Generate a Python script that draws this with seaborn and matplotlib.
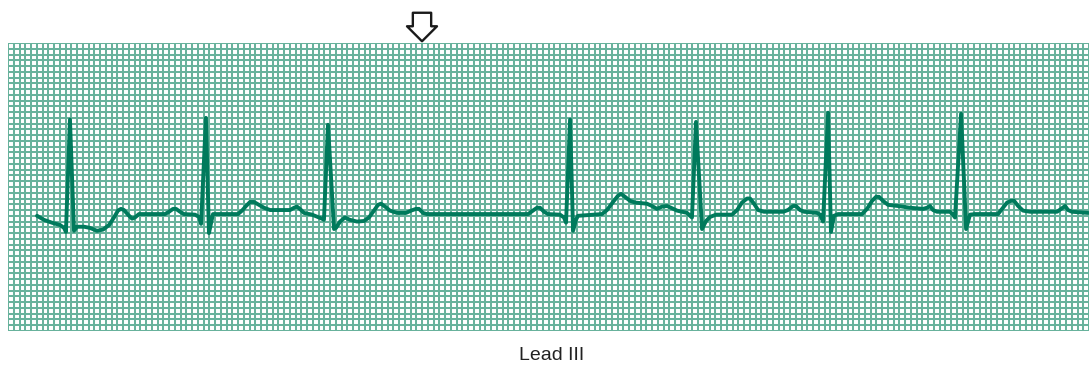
import numpy as np
import pandas as pd
import matplotlib
matplotlib.use("Agg")
import matplotlib.pyplot as plt
import seaborn as sns

# Rhythm strip, lead III (time in s, amplitude in mV)
time_s = [
    0.202, 0.250, 0.306, 0.362, 0.390, 0.403, 0.431, 0.459, 0.480, 0.529,
    0.570, 0.619, 0.661, 0.703, 0.737, 0.765, 0.786, 0.807, 0.835, 0.863,
    0.883, 0.911, 0.953, 1.092, 1.120, 1.148, 1.169, 1.197, 1.224, 1.301,
    1.329, 1.343, 1.377, 1.398, 1.426, 1.600, 1.628, 1.656, 1.684, 1.711,
    1.746, 1.781, 1.823, 1.962, 1.990, 2.010, 2.031, 2.059, 2.115, 2.184,
    2.198, 2.226, 2.268, 2.282, 2.310, 2.344, 2.379, 2.428, 2.477, 2.511,
    2.546, 2.574, 2.595, 2.623, 2.657, 2.706, 2.769, 2.804, 2.838, 2.859,
    2.887, 2.915, 3.618, 3.652, 3.680, 3.701, 3.729, 3.757, 3.840, 3.868,
    3.882, 3.910, 3.931, 3.951, 3.965, 4.132, 4.167, 4.209, 4.244, 4.265,
    4.292, 4.327, 4.362, 4.445, 4.480, 4.515, 4.550, 4.585, 4.612, 4.654,
    4.724, 4.758, 4.786, 4.828, 4.856, 4.884, 4.925, 5.037, 5.072, 5.106,
    5.141, 5.162, 5.190, 5.218, 5.259, 5.392, 5.426, 5.461, 5.482, 5.510,
    5.538, 5.628, 5.649, 5.670, 5.705, 5.725, 5.746, 5.774, 5.941, 5.976,
    6.011, 6.039, 6.059, 6.087, 6.122, 6.192, 6.275, 6.366, 6.393, 6.414,
    6.435, 6.463, 6.553, 6.574, 6.588, 6.630, 6.665, 6.692, 6.727, 6.887,
    6.922, 6.950, 6.978, 6.999, 7.027, 7.061, 7.110, 7.298, 7.326, 7.354,
    7.374, 7.402, 7.513,
]
voltage_mv = [
    0.00, -0.07, -0.12, -0.16, -0.21, -0.28, 1.67, -0.26, -0.19, -0.19,
    -0.21, -0.26, -0.24, -0.16, -0.03, 0.09, 0.12, 0.10, 0.02, -0.05,
    -0.03, 0.03, 0.03, 0.03, 0.07, 0.12, 0.12, 0.07, 0.03, 0.02,
    -0.02, -0.14, 1.70, -0.30, 0.03, 0.03, 0.09, 0.17, 0.24, 0.24,
    0.19, 0.14, 0.10, 0.10, 0.14, 0.16, 0.12, 0.05, 0.02, -0.05,
    -0.07, 1.58, -0.23, -0.21, -0.10, -0.03, -0.07, -0.10, -0.09, -0.03,
    0.09, 0.19, 0.21, 0.16, 0.09, 0.05, 0.05, 0.09, 0.12, 0.12,
    0.05, 0.03, 0.03, 0.09, 0.14, 0.14, 0.07, 0.03, 0.02, -0.03,
    -0.12, 1.67, -0.26, -0.07, 0.00, 0.03, 0.10, 0.24, 0.35, 0.38,
    0.33, 0.26, 0.23, 0.21, 0.17, 0.12, 0.16, 0.17, 0.14, 0.09,
    0.05, -0.03, 1.63, -0.23, -0.09, -0.02, 0.02, 0.02, 0.10, 0.23,
    0.30, 0.30, 0.21, 0.10, 0.07, 0.07, 0.10, 0.17, 0.17, 0.10,
    0.07, 0.05, 0.02, -0.10, 1.79, -0.28, 0.00, 0.03, 0.03, 0.12,
    0.26, 0.33, 0.33, 0.26, 0.19, 0.17, 0.14, 0.12, 0.14, 0.17,
    0.10, 0.07, 0.07, 0.02, -0.03, 1.77, -0.23, 0.02, 0.03, 0.03,
    0.14, 0.23, 0.26, 0.26, 0.17, 0.09, 0.07, 0.07, 0.12, 0.17,
    0.10, 0.07, 0.05,
]
blocked_p_time = 2.88
lead_label = "Lead III"

# Paper: 25 mm/s, 10 mm/mV, small box = 0.04 s x 0.1 mV
paper_seconds = 7.52
paper_mv_low, paper_mv_high = -2.0, 3.0

sns.set_style("white")
plt.rcParams["font.family"] = ["Liberation Sans", "DejaVu Sans"]

fig = plt.figure(figsize=(10.89, 3.65), dpi=100)
ax = fig.add_axes([8 / 1089, 34 / 365, 1081 / 1089, 288 / 365])

grid_color = "#68b29c"
for x in np.arange(0, paper_seconds + 1e-9, 0.04):
    ax.axvline(x, color=grid_color, lw=1.45, zorder=1)
for y in np.arange(paper_mv_low, paper_mv_high + 1e-9, 0.1):
    ax.axhline(y, color=grid_color, lw=1.45, zorder=1)

df = pd.DataFrame({"t": time_s, "mv": voltage_mv})
sns.lineplot(data=df, x="t", y="mv", sort=False, estimator=None, ax=ax,
             color="#007a5c", lw=2.8, zorder=3,
             solid_joinstyle="round", solid_capstyle="round")

ax.set_xlim(0, paper_seconds)
ax.set_ylim(paper_mv_low, paper_mv_high)
ax.set_xticks([])
ax.set_yticks([])
ax.set_xlabel("")
ax.set_ylabel("")
for s in ax.spines.values():
    s.set_visible(False)

# Hollow arrow marking the non-conducted P wave
ax.annotate("", xy=(blocked_p_time, 1.006), xycoords=("data", "axes fraction"),
            xytext=(blocked_p_time, 1.105), textcoords=("data", "axes fraction"),
            arrowprops=dict(arrowstyle="simple,head_length=10.8,head_width=21.6,tail_width=13.2",
                            mutation_scale=1, fc="white", ec="#1a1a1a", lw=1.7,
                            shrinkA=0, shrinkB=0),
            annotation_clip=False)

fig.text(552 / 1089, 1 - 355 / 365, lead_label, ha="center", va="center",
         fontsize=14, color="#222222")

fig.savefig("out.png", dpi=100)
